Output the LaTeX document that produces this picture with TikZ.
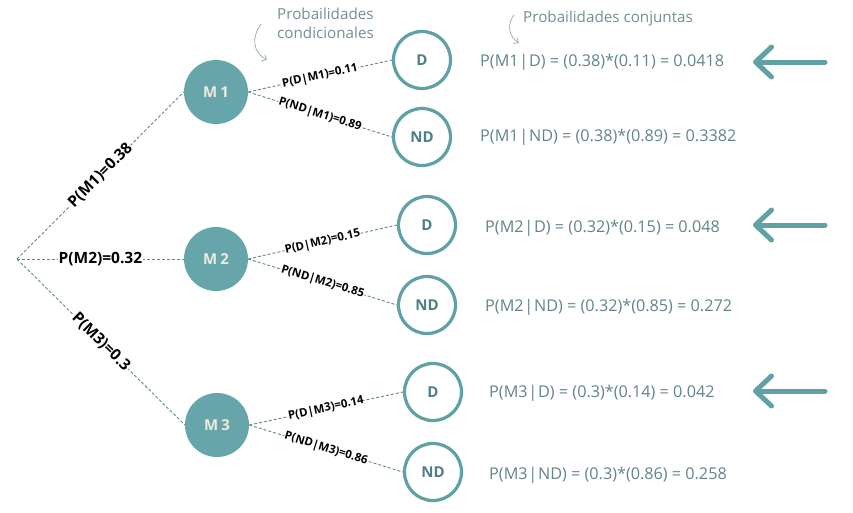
\documentclass[tikz,border=0pt]{standalone}
\usepackage{fontspec}
\setmainfont{Open Sans}
\usetikzlibrary{arrows.meta}
\definecolor{tealfill}{HTML}{66A6AA}
\definecolor{tealline}{HTML}{5FA1A5}
\definecolor{tealtext}{HTML}{4E7F86}
\definecolor{graytext}{HTML}{62848A}
\definecolor{dashcol}{HTML}{5E8A8E}
\definecolor{mlabel}{HTML}{EEEAE0}
\tikzset{
  mnode/.style={circle, fill=tealfill, minimum size=64pt, inner sep=0pt, text=mlabel, font=\bfseries\fontsize{15}{17}\selectfont},
  onode/.style={circle, draw=tealline, line width=3.2pt, fill=white, minimum size=57pt, inner sep=0pt, text=tealtext, font=\bfseries\fontsize{15}{17}\selectfont},
  dline/.style={dashcol, line width=0.9pt, dash pattern=on 3pt off 2pt},
  biglab/.style={font=\bfseries\fontsize{15.5}{17}\selectfont, fill=white, inner sep=1pt, text=black},
  smalllab/.style={font=\bfseries\fontsize{11.5}{13}\selectfont, fill=white, inner sep=0.5pt, text=black},
  formula/.style={anchor=west, text=graytext, font=\fontsize{16.2}{19}\selectfont, inner sep=0pt},
  note/.style={text=graytext!90, font=\fontsize{15.2}{18.5}\selectfont, inner sep=0pt},
  notearrow/.style={graytext!70, line width=0.7pt, -{Straight Barb[length=4pt,width=7pt]}},
  bigarrow/.style={tealline, line width=5pt, line cap=round, -{Straight Barb[length=16pt,width=30pt,round]}}
}
\newcommand{\condbar}{\kern0.8pt|\kern0.8pt}
\begin{document}
\begin{tikzpicture}[x=1pt,y=-1pt]
\useasboundingbox (0,0) rectangle (853,512);
\fill[white] (0,0) rectangle (853,512);
\coordinate (root) at (17,259);
\node[mnode] (M1) at (216,92) {M\kern3pt1};
\node[mnode] (M2) at (216,259) {M\kern3pt2};
\node[mnode] (M3) at (217,425) {M\kern3pt3};
\node[onode] (D1) at (422,60) {D};
\node[onode] (ND1) at (422,137) {ND};
\node[onode] (D2) at (427,225) {D};
\node[onode] (ND2) at (427,305) {ND};
\node[onode] (D3) at (433,392) {D};
\node[onode] (ND3) at (433,472) {ND};
% root branches
\draw[dline] (root) -- node[biglab, sloped, pos=0.5] {P(M1)=0.38} (M1.west);
\draw[dline] (root) -- node[biglab, pos=0.5] {P(M2)=0.32} (M2.west);
\draw[dline] (root) -- node[biglab, sloped, pos=0.5] {P(M3)=0.3} (M3.west);
% second level
\draw[dline] (M1.east) -- node[smalllab, sloped, pos=0.5] {P(D|M1)=0.11} (D1.west);
\draw[dline] (M1.east) -- node[smalllab, sloped, pos=0.5] {P(ND|M1)=0.89} (ND1.west);
\draw[dline] (M2.east) -- node[smalllab, sloped, pos=0.5] {P(D|M2)=0.15} (D2.west);
\draw[dline] (M2.east) -- node[smalllab, sloped, pos=0.5] {P(ND|M2)=0.85} (ND2.west);
\draw[dline] (M3.east) -- node[smalllab, sloped, pos=0.5] {P(D|M3)=0.14} (D3.west);
\draw[dline] (M3.east) -- node[smalllab, sloped, pos=0.5] {P(ND|M3)=0.86} (ND3.west);
% formulas
\node[formula] (F1) at (480,62) {P(M1\condbar D) = (0.38)*(0.11) = 0.0418};
\node[formula] (F2) at (480,137) {P(M1\condbar ND) = (0.38)*(0.89) = 0.3382};
\node[formula] (F3) at (485,228) {P(M2\condbar D) = (0.32)*(0.15) = 0.048};
\node[formula] (F4) at (485,307) {P(M2\condbar ND) = (0.32)*(0.85) = 0.272};
\node[formula] (F5) at (489,393) {P(M3\condbar D) = (0.3)*(0.14) = 0.042};
\node[formula] (F6) at (489,475) {P(M3\condbar ND) = (0.3)*(0.86) = 0.258};
% notes
\node[note, align=left, anchor=north west] (N1) at (277,8) {Probailidades\\condicionales};
\node[note, anchor=west] (N2) at (523,19) {Probailidades conjuntas};
\coordinate (n1s) at (261,24);
\coordinate (n1e) at (267,60);
\draw[notearrow] (n1s) .. controls (251,38) and (253,52) .. (n1e);
\coordinate (n2s) at (514,15);
\coordinate (n2e) at (519,43);
\draw[notearrow] (n2s) .. controls (507,24) and (508,36) .. (n2e);
% big arrows
\coordinate (a1s) at (825,62); \coordinate (a1e) at (753,62);
\coordinate (a2s) at (825,225); \coordinate (a2e) at (753,225);
\coordinate (a3s) at (825,391); \coordinate (a3e) at (753,391);
\draw[bigarrow] (a1s) -- (a1e);
\draw[bigarrow] (a2s) -- (a2e);
\draw[bigarrow] (a3s) -- (a3e);
\end{tikzpicture}
\end{document}
